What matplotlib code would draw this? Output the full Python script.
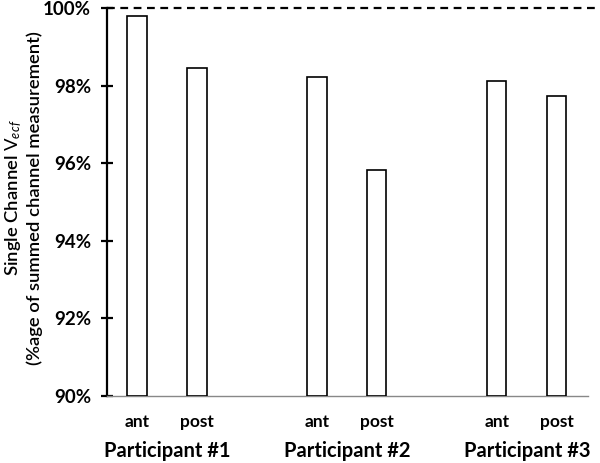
import matplotlib
matplotlib.use("Agg")
import matplotlib.pyplot as plt

plt.rcParams['font.family'] = ['Lato', 'DejaVu Sans']
plt.rcParams['mathtext.fontset'] = 'custom'
plt.rcParams['mathtext.rm'] = 'Lato'
plt.rcParams['mathtext.it'] = 'Lato:italic'

participants = ["Participant #1", "Participant #2", "Participant #3"]
channels = ["ant", "post"]
values = [99.80, 98.46, 98.22, 95.82, 98.12, 97.74]
yticks = [90, 92, 94, 96, 98, 100]

positions = [0, 1, 3, 4, 6, 7]
labels = channels * len(participants)

fig = plt.figure(figsize=(6, 4.63), dpi=100)
ax = fig.add_axes([107 / 600, 1 - 396 / 463, 493 / 600, 388 / 463])

ax.bar(positions, [v - 90 for v in values], bottom=90, width=0.32,
       facecolor='white', edgecolor='black', linewidth=1.2, zorder=3)

ax.axhline(100, color='black', linestyle=(0, (3.5, 2.5)), linewidth=1.6,
           clip_on=False, zorder=4)

ax.set_ylim(90, 100)
ax.set_xlim(-0.5, 7.72)
ax.set_yticks(yticks)
ax.set_yticklabels([f"{t}%" for t in yticks], fontsize=13.5, fontweight='bold')
ax.set_xticks(positions)
ax.set_xticklabels(labels, fontsize=12.5, fontweight='bold')
ax.tick_params(axis='x', length=0, pad=13)
ax.tick_params(axis='y', direction='inout', length=9, width=1.6, pad=7)

for s in ['top', 'right']:
    ax.spines[s].set_visible(False)
ax.spines['left'].set_linewidth(1.6)
ax.spines['bottom'].set_color('#888888')
ax.spines['bottom'].set_linewidth(1.0)
ax.spines['bottom'].set_bounds(-0.5, 7.52)

for i, p in enumerate(participants):
    center = (positions[2 * i] + positions[2 * i + 1]) / 2
    ax.text(center, -0.143, p, transform=ax.get_xaxis_transform(),
            ha='center', va='center', fontsize=14.5, fontweight='bold')

fig.text(23 / 600, 1 - 198 / 463,
         "Single Channel $\\mathrm{V}_{\\mathit{ecf}}$\n(%age of summed channel measurement)",
         rotation=90, ha='center', va='center', fontsize=13.3,
         fontweight='semibold', linespacing=1.2, multialignment='center')

fig.savefig("out.png", dpi=100)
